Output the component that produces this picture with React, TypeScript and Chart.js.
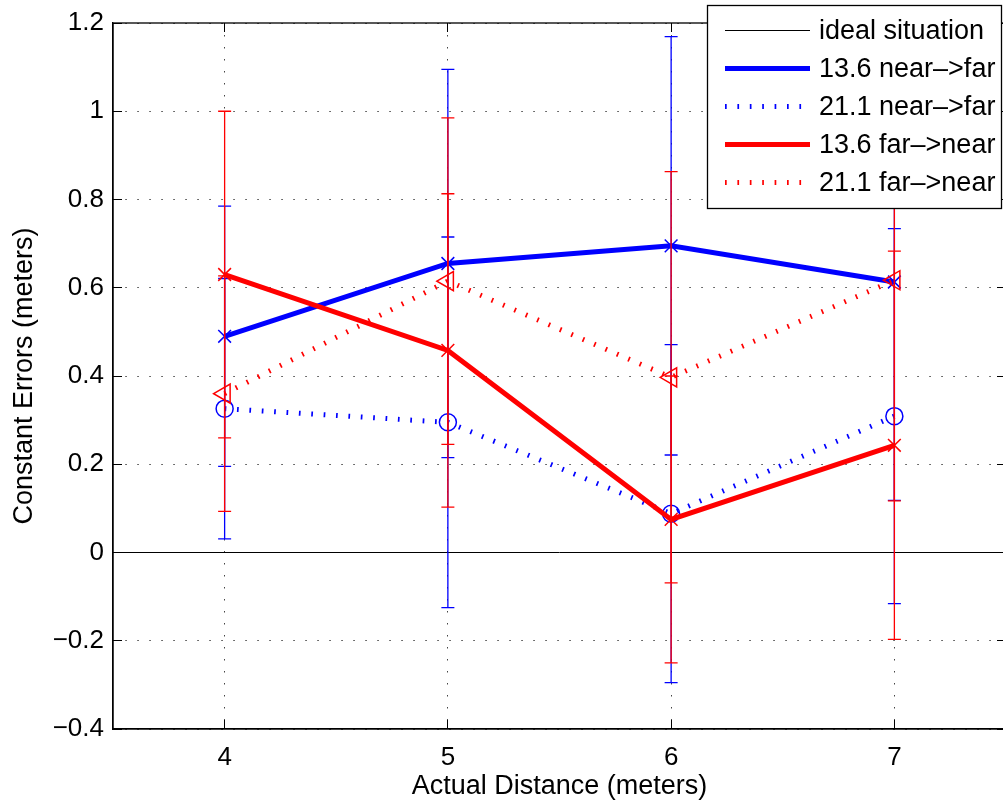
import React, { useEffect, useRef } from "react";
import { Chart, registerables } from "chart.js";

Chart.register(...registerables);

// ---- data ----
const distances = [4, 5, 6, 7];
const xTickValues = [4, 5, 6, 7];
const yTickValues = [-0.4, -0.2, 0, 0.2, 0.4, 0.6, 0.8, 1, 1.2];
const idealX = [3.5, 7.5];
const idealY = [0, 0];

const nearFar136 = [0.49, 0.655, 0.695, 0.613];
const nearFar136Err = [0.295, 0.44, 0.474, 0.495];
const nearFar211 = [0.326, 0.295, 0.088, 0.309];
const nearFar211Err = [0.295, 0.42, 0.383, 0.425];
const farNear136 = [0.63, 0.458, 0.075, 0.243];
const farNear136Err = [0.37, 0.355, 0.325, 0.44];
const farNear211 = [0.36, 0.615, 0.397, 0.617];
const farNear211Err = [0.267, 0.37, 0.466, 0.5];

const seriesLabels = [
  "ideal situation",
  "13.6 near\u2013>far",
  "21.1 near\u2013>far",
  "13.6 far\u2013>near",
  "21.1 far\u2013>near",
];

const FONT = '"Liberation Sans", Arial, Helvetica, sans-serif';
const BLUE = "#0000ff";
const RED = "#ff0000";
const DOT = [1.7, 10.7];

const toPoints = (xs: number[], ys: number[]) => xs.map((x, i) => ({ x, y: ys[i] }));

const errorBarPlugin = {
  id: "errorBars",
  afterDatasetDraw(chart: any, args: any) {
    const ds = chart.data.datasets[args.index];
    if (!ds.errors) return;
    const { ctx, chartArea } = chart;
    const xs = chart.scales.x;
    const ys = chart.scales.y;
    ctx.save();
    ctx.beginPath();
    ctx.rect(chartArea.left, chartArea.top, chartArea.right - chartArea.left, chartArea.bottom - chartArea.top);
    ctx.clip();
    ctx.strokeStyle = ds.borderColor;
    ctx.lineWidth = 1.3;
    ctx.setLineDash([]);
    const cap = 6.5;
    ds.data.forEach((p: any, i: number) => {
      const e = ds.errors[i];
      const px = xs.getPixelForValue(p.x);
      const yt = ys.getPixelForValue(p.y + e);
      const yb = ys.getPixelForValue(p.y - e);
      ctx.beginPath();
      ctx.moveTo(px, yt);
      ctx.lineTo(px, yb);
      ctx.moveTo(px - cap, yt);
      ctx.lineTo(px + cap, yt);
      ctx.moveTo(px - cap, yb);
      ctx.lineTo(px + cap, yb);
      ctx.stroke();
    });
    ctx.restore();
  },
};

const boxPlugin = {
  id: "axesBox",
  afterDatasetsDraw(chart: any) {
    const { ctx, chartArea } = chart;
    const { left, right, top, bottom } = chartArea;
    const xs = chart.scales.x;
    const ys = chart.scales.y;
    ctx.save();
    ctx.strokeStyle = "#000";
    ctx.lineWidth = 1.3;
    ctx.setLineDash([]);
    ctx.strokeRect(left, top, right - left, bottom - top);
    ctx.lineWidth = 1;
    const tl = 9;
    ctx.beginPath();
    xTickValues.forEach((v) => {
      const px = Math.floor(xs.getPixelForValue(v)) + 0.5;
      ctx.moveTo(px, bottom);
      ctx.lineTo(px, bottom - tl);
      ctx.moveTo(px, top);
      ctx.lineTo(px, top + tl);
    });
    yTickValues.forEach((v) => {
      const py = Math.floor(ys.getPixelForValue(v)) + 0.5;
      ctx.moveTo(left, py);
      ctx.lineTo(left + tl, py);
      ctx.moveTo(right, py);
      ctx.lineTo(right - tl, py);
    });
    ctx.stroke();
    ctx.restore();
  },
};

const legendPlugin = {
  id: "matlabLegend",
  afterDraw(chart: any) {
    const { ctx } = chart;
    const box = { left: 707.5, top: 5.5, right: 1001.5, bottom: 208.5 };
    ctx.save();
    ctx.fillStyle = "#fff";
    ctx.fillRect(box.left, box.top, box.right - box.left, box.bottom - box.top);
    ctx.strokeStyle = "#000";
    ctx.lineWidth = 1.3;
    ctx.setLineDash([]);
    ctx.strokeRect(box.left, box.top, box.right - box.left, box.bottom - box.top);
    const rowY0 = 30.5;
    const rowStep = 38;
    chart.data.datasets.forEach((ds: any, i: number) => {
      const y = rowY0 + i * rowStep;
      ctx.beginPath();
      ctx.strokeStyle = ds.borderColor;
      ctx.lineWidth = ds.borderWidth;
      ctx.setLineDash(ds.borderDash || []);
      ctx.moveTo(725, y);
      ctx.lineTo(810, y);
      ctx.stroke();
      ctx.setLineDash([]);
      ctx.fillStyle = "#000";
      ctx.font = `27px ${FONT}`;
      ctx.textAlign = "left";
      ctx.textBaseline = "middle";
      ctx.fillText(ds.label, 819, y + 1.5);
    });
    ctx.restore();
  },
};

export default function App() {
  const canvasRef = useRef<HTMLCanvasElement | null>(null);

  useEffect(() => {
    if (!canvasRef.current) return;
    const markerCommon = {
      pointBackgroundColor: "rgba(0,0,0,0)",
      pointBorderWidth: 1.5,
      pointHoverRadius: 0,
    };
    const chart = new Chart(canvasRef.current, {
      type: "line",
      data: {
        datasets: [
          {
            label: seriesLabels[0],
            data: toPoints(idealX, idealY),
            borderColor: "#000",
            borderWidth: 1,
            pointRadius: 0,
            order: 4,
          },
          {
            label: seriesLabels[1],
            data: toPoints(distances, nearFar136),
            errors: nearFar136Err,
            borderColor: BLUE,
            borderWidth: 5,
            pointStyle: "crossRot",
            pointRadius: 9,
            pointBorderColor: BLUE,
            order: 3,
            ...markerCommon,
          },
          {
            label: seriesLabels[2],
            data: toPoints(distances, nearFar211),
            errors: nearFar211Err,
            borderColor: BLUE,
            borderWidth: 5,
            borderDash: DOT,
            pointStyle: "circle",
            pointRadius: 8.5,
            pointBorderColor: BLUE,
            order: 2,
            ...markerCommon,
          },
          {
            label: seriesLabels[3],
            data: toPoints(distances, farNear136),
            errors: farNear136Err,
            borderColor: RED,
            borderWidth: 5,
            pointStyle: "crossRot",
            pointRadius: 9,
            pointBorderColor: RED,
            order: 1,
            ...markerCommon,
          },
          {
            label: seriesLabels[4],
            data: toPoints(distances, farNear211),
            errors: farNear211Err,
            borderColor: RED,
            borderWidth: 5,
            borderDash: DOT,
            pointStyle: "triangle",
            pointRotation: -90,
            pointRadius: 11,
            pointBorderColor: RED,
            order: 0,
            ...markerCommon,
          },
        ] as any,
      },
      options: {
        animation: false,
        responsive: false,
        maintainAspectRatio: false,
        layout: { autoPadding: false, padding: { top: 23, right: 4, left: 0, bottom: 0 } },
        elements: { line: { tension: 0 } },
        plugins: {
          legend: { display: false },
          tooltip: { enabled: false },
        },
        scales: {
          x: {
            type: "linear",
            min: 3.5,
            max: 7.5,
            afterBuildTicks: (s: any) => {
              s.ticks = xTickValues.map((v) => ({ value: v }));
            },
            afterFit: (s: any) => {
              s.height = 74;
              s.paddingLeft = 0;
              s.paddingRight = 0;
            },
            grid: { color: "#444", lineWidth: 1, drawTicks: false },
            border: { display: true, color: "#000", width: 1.3, dash: [1.5, 10.5] },
            ticks: {
              padding: 13,
              color: "#000",
              autoSkip: false,
              maxRotation: 0,
              font: { family: FONT, size: 26 },
              callback: (v: any) => String(v),
            },
            title: {
              display: true,
              text: "Actual Distance (meters)",
              color: "#000",
              font: { family: FONT, size: 27 },
              padding: { top: 0, bottom: 0 },
            },
          },
          y: {
            type: "linear",
            min: -0.4,
            max: 1.2,
            afterBuildTicks: (s: any) => {
              s.ticks = yTickValues.map((v) => ({ value: v }));
            },
            afterFit: (s: any) => {
              s.width = 113;
              s.paddingTop = 0;
              s.paddingBottom = 0;
            },
            grid: { color: "#444", lineWidth: 1, drawTicks: false },
            border: { display: true, color: "#000", width: 1.3, dash: [1.5, 10.5] },
            ticks: {
              padding: 9,
              color: "#000",
              autoSkip: false,
              font: { family: FONT, size: 26 },
              callback: (v: any) => {
                const r = Math.round(Number(v) * 10) / 10;
                if (r === 0) return "0";
                return r < 0 ? "\u2212" + String(Math.abs(r)) : String(r);
              },
            },
            title: {
              display: true,
              text: "Constant Errors (meters)",
              color: "#000",
              font: { family: FONT, size: 27 },
              padding: { top: 8, bottom: 0 },
            },
          },
        },
      } as any,
      plugins: [errorBarPlugin, boxPlugin, legendPlugin],
    });
    return () => chart.destroy();
  }, []);

  return (
    <div
      style={{
        position: "absolute",
        left: 0,
        top: 0,
        width: 1003,
        height: 803,
        overflow: "hidden",
        background: "#fff",
      }}
    >
      <canvas ref={canvasRef} width={1010} height={803} style={{ display: "block", width: 1010, height: 803 }} />
    </div>
  );
}
